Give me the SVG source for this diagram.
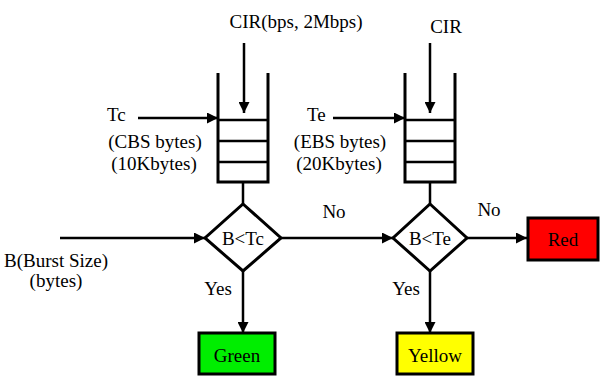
<svg xmlns="http://www.w3.org/2000/svg" width="601" height="377" viewBox="0 0 601 377" font-family="Liberation Serif, DejaVu Serif, serif">
<style>
text{fill:#000;font-size:19px}
.ln{stroke:#000;stroke-width:2.5;fill:none}
.wall{stroke:#000;stroke-width:3;fill:none}
.box{stroke:#000;stroke-width:3}
.c{text-anchor:middle}
</style>
<defs>
<marker id="ah" viewBox="0 0 10 10" markerUnits="userSpaceOnUse" markerWidth="11" markerHeight="11" refX="10" refY="5" orient="auto">
<path d="M0,0L10,5L0,10z" fill="#000"/>
</marker>
</defs>
<rect width="601" height="377" fill="#fff"/>
<g id="bucket-c">
<path class="wall" d="M218,73V182H268V73"/>
<path class="ln" d="M218,120H268M218,141H268M218,162H268"/>
</g>
<g id="bucket-e">
<path class="wall" d="M405,73V182H455V73"/>
<path class="ln" d="M405,120H455M405,141H455M405,162H455"/>
</g>
<g id="decision-tc">
<polygon class="wall" points="243,204 281,238 243,271 205,238" fill="#fff"/>
<text class="c" x="243" y="245" font-size="20" font-family="Liberation Serif">B&lt;Tc</text>
</g>
<g id="decision-te">
<polygon class="wall" points="430,204 467,238 430,271 393,238" fill="#fff"/>
<text class="c" x="430" y="245" font-size="20">B&lt;Te</text>
</g>
<g id="green">
<rect class="box" x="199" y="333" width="76" height="41" fill="#00ee00"/>
<text class="c" x="237" y="362" font-size="20">Green</text>
</g>
<g id="yellow">
<rect class="box" x="397" y="333" width="76" height="41" fill="#ffff00"/>
<text class="c" x="435" y="362" font-size="20">Yellow</text>
</g>
<g id="red">
<rect class="box" x="528" y="218" width="70" height="42" fill="#ff0000"/>
<text class="c" x="563" y="246" font-size="20">Red</text>
</g>
<g id="connectors">
<path class="ln" d="M244,43V113" marker-end="url(#ah)"/>
<path class="ln" d="M430,43V113" marker-end="url(#ah)"/>
<path class="ln" d="M138,118H218" marker-end="url(#ah)"/>
<path class="ln" d="M333,118H405" marker-end="url(#ah)"/>
<path class="ln" d="M243,182V204"/>
<path class="ln" d="M430,182V204"/>
<path class="ln" d="M60,238H205" marker-end="url(#ah)"/>
<path class="ln" d="M281,238H393" marker-end="url(#ah)"/>
<path class="ln" d="M467,238H527" marker-end="url(#ah)"/>
<path class="ln" d="M243,271V333" marker-end="url(#ah)"/>
<path class="ln" d="M430,271V333" marker-end="url(#ah)"/>
</g>
<g id="labels">
<text class="c" x="296" y="28" font-size="20">CIR(bps, 2Mbps)</text>
<text class="c" x="446" y="33" font-size="20">CIR</text>
<text x="107" y="121">Tc</text>
<text class="c" x="155" y="148">(CBS bytes)</text>
<text class="c" x="154" y="170">(10Kbytes)</text>
<text x="307" y="121">Te</text>
<text class="c" x="340" y="148">(EBS bytes)</text>
<text class="c" x="339" y="170">(20Kbytes)</text>
<text class="c" x="334" y="218">No</text>
<text class="c" x="489" y="216">No</text>
<text class="c" x="56" y="267" font-size="17">B(Burst Size)</text>
<text class="c" x="56" y="287" font-size="17">(bytes)</text>
<text class="c" x="218" y="295">Yes</text>
<text class="c" x="406" y="295">Yes</text>
</g>
</svg>
